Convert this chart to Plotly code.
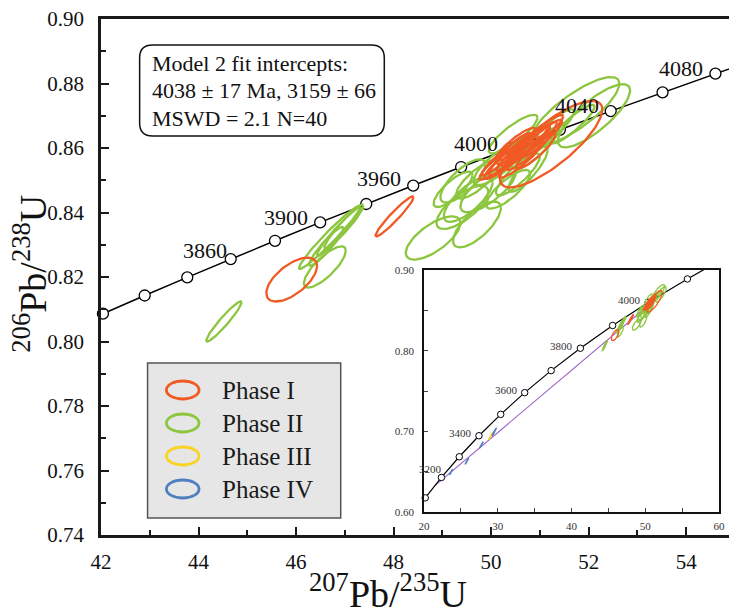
import numpy as np
import plotly.graph_objects as go

FONT = "Liberation Serif"

# ---------------------------------------------------------------------------
# Concordia reference points: age (Ma), 207Pb/235U, 206Pb/238U
# ---------------------------------------------------------------------------
conc_age = [3800, 3820, 3840, 3860, 3880, 3900, 3920, 3940, 3960, 3980,
            4000, 4020, 4040, 4060, 4080, 4100]
conc_x = [41.2004, 42.0399, 42.8960, 43.7692, 44.6597, 45.5680, 46.4943,
          47.4391, 48.4026, 49.3854, 50.3876, 51.4098, 52.4524, 53.5157,
          54.6001, 55.7061]
conc_y = [0.80304, 0.80864, 0.81427, 0.81990, 0.82556, 0.83123, 0.83692,
          0.84263, 0.84835, 0.85410, 0.85986, 0.86564, 0.87144, 0.87725,
          0.88308, 0.88894]

# age labels written along the main concordia and the tick they sit beside
conc_label_text = ["3860", "3900", "3960", "4000", "4040", "4080"]
conc_label_age = [3880, 3920, 3960, 4000, 4040, 4080]

# wide-range concordia shown in the inset (100 Ma ticks)
inset_age = [3100, 3200, 3300, 3400, 3500, 3600, 3700, 3800, 3900, 4000,
             4100, 4140]
inset_x = [20.1795, 22.3716, 24.7905, 27.4597, 30.4052, 33.6556, 37.2423,
           41.2003, 45.5679, 50.3876, 55.7060, 57.9845]
inset_y = [0.61751, 0.64280, 0.66848, 0.69456, 0.72105, 0.74796, 0.77528,
           0.80303, 0.83122, 0.85985, 0.88892, 0.90068]
inset_label_text = ["3200", "3400", "3600", "3800", "4000"]

# discordia through the two intercepts (3159 Ma and 4038 Ma)
disc_x = [21.45, 52.33]
disc_y = [0.6324, 0.8709]

# ---------------------------------------------------------------------------
# Analyses: 207Pb/235U, err, 206Pb/238U, err, error correlation
# ---------------------------------------------------------------------------
p1_x = [45.91, 48.02, 51.23, 50.41, 50.55, 50.71, 50.85, 50.61, 50.21,
        51.01, 50.51, 50.92, 50.30, 50.66, 50.78, 50.98, 50.47]
p1_sx = [0.52, 0.39, 1.05, 0.55, 0.60, 0.50, 0.50, 0.45, 0.45, 0.45, 0.40,
         0.40, 0.50, 0.55, 0.45, 0.50, 0.35]
p1_y = [0.8192, 0.8388, 0.8612, 0.8572, 0.8591, 0.8606, 0.8619, 0.8566,
        0.8557, 0.8628, 0.8612, 0.8591, 0.8580, 0.8600, 0.8590, 0.8640,
        0.8598]
p1_sy = [0.0068, 0.0062, 0.0134, 0.0068, 0.0075, 0.0062, 0.0062, 0.0058,
         0.0055, 0.0060, 0.0050, 0.0055, 0.0065, 0.0070, 0.0058, 0.0062,
         0.0048]
p1_rho = [0.62, 0.955, 0.80, 0.93, 0.94, 0.92, 0.93, 0.91, 0.91, 0.93,
          0.88, 0.90, 0.95, 0.96, 0.94, 0.93, 0.90]

p2_x = [44.52, 46.59, 46.69, 46.88, 46.98, 46.62, 48.81, 49.71, 49.41,
        49.42, 49.94, 50.14, 49.73, 49.22, 49.53, 50.35, 50.55, 50.76,
        50.95, 51.72, 52.11, 51.67, 50.45, 51.20]
p2_sx = [0.36, 0.43, 0.63, 0.45, 0.40, 0.35, 0.56, 0.49, 0.53, 0.46, 0.57,
         0.50, 0.45, 0.40, 0.50, 0.45, 0.45, 0.40, 0.45, 0.91, 0.74, 0.45,
         0.50, 0.50]
p2_y = [0.8062, 0.8231, 0.8323, 0.8341, 0.8356, 0.8295, 0.8321, 0.8363,
        0.8416, 0.8498, 0.8472, 0.8550, 0.8503, 0.8472, 0.8441, 0.8472,
        0.8518, 0.8534, 0.8600, 0.8713, 0.8700, 0.8674, 0.8643, 0.8650]
p2_sy = [0.0062, 0.0064, 0.0098, 0.0075, 0.0068, 0.0060, 0.0067, 0.0071,
         0.0067, 0.0067, 0.0071, 0.0065, 0.0060, 0.0055, 0.0070, 0.0060,
         0.0065, 0.0070, 0.0065, 0.0107, 0.0098, 0.0060, 0.0060, 0.0070]
p2_rho = [0.95, 0.79, 0.97, 0.96, 0.95, 0.93, 0.69, 0.72, 0.72, 0.75, 0.75,
          0.80, 0.80, 0.80, 0.75, 0.80, 0.85, 0.85, 0.90, 0.81, 0.80, 0.90,
          0.85, 0.90]

p3_x = [29.06]
p3_sx = [0.30]
p3_y = [0.6942]
p3_sy = [0.0045]
p3_rho = [0.97]

p4_x = [23.69, 25.84, 27.79, 29.53]
p4_sx = [0.22, 0.25, 0.25, 0.30]
p4_y = [0.6496, 0.6632, 0.6831, 0.6992]
p4_sy = [0.0035, 0.0040, 0.0040, 0.0050]
p4_rho = [0.97, 0.97, 0.97, 0.97]

phases = [
    ("Phase I", "#f15a24", p1_x, p1_sx, p1_y, p1_sy, p1_rho),
    ("Phase II", "#8cc63f", p2_x, p2_sx, p2_y, p2_sy, p2_rho),
    ("Phase III", "#f9d423", p3_x, p3_sx, p3_y, p3_sy, p3_rho),
    ("Phase IV", "#4f7fbf", p4_x, p4_sx, p4_y, p4_sy, p4_rho),
]
draw_order = [1, 0, 2, 3]


def ellipse_outlines(xs, sxs, ys, sys_, rhos, n=90):
    """Error-ellipse outlines joined into one polyline with gaps."""
    t = np.linspace(0, 2 * np.pi, n)
    px, py = [], []
    for cx, sx, cy, sy, r in zip(xs, sxs, ys, sys_, rhos):
        ex = cx + sx * np.cos(t)
        ey = cy + sy * (r * np.cos(t) + np.sqrt(1 - r * r) * np.sin(t))
        px += list(ex) + [None]
        py += list(ey) + [None]
    return px, py


fig = go.Figure()

# ---------------------------------------------------------------- main panel
fig.add_trace(go.Scatter(x=conc_x, y=conc_y, mode="lines",
                         line=dict(color="black", width=1.5),
                         hoverinfo="skip", showlegend=False))
main_idx = [i for i, a in enumerate(conc_age) if 3820 <= a <= 4080]
fig.add_trace(go.Scatter(x=[conc_x[i] for i in main_idx],
                         y=[conc_y[i] for i in main_idx],
                         mode="markers", cliponaxis=False,
                         marker=dict(symbol="circle", size=11, color="white",
                                     line=dict(color="black", width=1.3)),
                         hoverinfo="skip", showlegend=False))

for k in draw_order:
    name, col, xs, sxs, ys, sys_, rhos = phases[k]
    ex, ey = ellipse_outlines(xs, sxs, ys, sys_, rhos)
    fig.add_trace(go.Scatter(x=ex, y=ey, mode="lines", name=name,
                             line=dict(color=col, width=2.3),
                             hoverinfo="skip", showlegend=False))

# --------------------------------------------------------------- inset panel
fig.add_trace(go.Scatter(x=disc_x, y=disc_y, mode="lines", xaxis="x2",
                         yaxis="y2", line=dict(color="#9b5fc9", width=1.1),
                         hoverinfo="skip", showlegend=False))
fig.add_trace(go.Scatter(x=inset_x, y=inset_y, mode="lines", xaxis="x2",
                         yaxis="y2", line=dict(color="black", width=1.2),
                         hoverinfo="skip", showlegend=False))
inset_idx = [i for i, a in enumerate(inset_age) if a % 100 == 0]
fig.add_trace(go.Scatter(x=[inset_x[i] for i in inset_idx],
                         y=[inset_y[i] for i in inset_idx],
                         mode="markers", xaxis="x2", yaxis="y2",
                         cliponaxis=False,
                         marker=dict(symbol="circle", size=6.5, color="white",
                                     line=dict(color="black", width=1)),
                         hoverinfo="skip", showlegend=False))
for k in draw_order:
    name, col, xs, sxs, ys, sys_, rhos = phases[k]
    ex, ey = ellipse_outlines(xs, sxs, ys, sys_, rhos)
    fig.add_trace(go.Scatter(x=ex, y=ey, mode="lines", xaxis="x2", yaxis="y2",
                             line=dict(color=col, width=1.3),
                             hoverinfo="skip", showlegend=False))

# ---------------------------------------------------------------- geometry
L, R, T, B = 101, 735, 19, 535          # plot area in pixels
W, H = R - L, B - T


def fx(px):
    return (px - L) / W


def fy(py):
    return (B - py) / H


annotations = []

# concordia age labels (main)
main_shift = {"3860": (-2, 9), "3900": (-10, 4.5), "3960": (-10, 7),
              "4000": (-10, 5), "4040": (-10, 5.5), "4080": (-10, 5.5)}
for txt, age in zip(conc_label_text, conc_label_age):
    i = conc_age.index(age)
    dx, dy = main_shift[txt]
    annotations.append(dict(x=conc_x[i], y=conc_y[i], xref="x", yref="y",
                            text=txt, showarrow=False, xanchor="right",
                            yanchor="middle", xshift=dx, yshift=dy,
                            font=dict(family=FONT, size=22, color="#111")))

# concordia age labels (inset)
inset_shift = {"3200": (3, 8), "3400": (-5, 2.5), "3600": (-5, 2.5),
               "3800": (-5, 2.5), "4000": (-5, 2.5)}
for txt in inset_label_text:
    i = inset_age.index(int(txt))
    dx, dy = inset_shift[txt]
    annotations.append(dict(x=inset_x[i], y=inset_y[i], xref="x2", yref="y2",
                            text=txt, showarrow=False, xanchor="right",
                            yanchor="middle", xshift=dx, yshift=dy,
                            font=dict(family=FONT, size=11, color="#333")))

# fit result box
box_lines = ["Model 2 fit intercepts:", "4038 \u00b1 17 Ma, 3159 \u00b1 66",
             "MSWD = 2.1 N=40"]
for j, line in enumerate(box_lines):
    annotations.append(dict(x=fx(150), y=fy(63 + j * 27.5), xref="paper",
                            yref="paper", text=line, showarrow=False,
                            xanchor="left", yanchor="middle",
                            font=dict(family=FONT, size=22, color="#111")))

# legend entries
leg_rows = [390, 423, 456, 489]
for j, (name, col, *_rest) in enumerate(phases):
    annotations.append(dict(x=fx(221), y=fy(leg_rows[j]), xref="paper",
                            yref="paper", text=name, showarrow=False,
                            xanchor="left", yanchor="middle",
                            font=dict(family=FONT, size=25, color="#1a1a1a")))

# axis titles
annotations.append(dict(x=fx(391), y=fy(591), xref="paper", yref="paper",
                        text="<sup>207</sup>Pb/<sup>235</sup>U",
                        showarrow=False, xanchor="center", yanchor="middle",
                        borderpad=0,
                        font=dict(family=FONT, size=38, color="#111")))
annotations.append(dict(x=fx(29), y=fy(274), xref="paper", yref="paper",
                        text="<sup>206</sup>Pb/<sup>238</sup>U",
                        showarrow=False, xanchor="center", yanchor="middle",
                        textangle=-90, borderpad=0,
                        font=dict(family=FONT, size=38, color="#111")))

shapes = []
# rounded box behind the fit result
x0, x1, y0, y1 = fx(140), fx(387), fy(136), fy(45)
rx, ry = 13 / W, 13 / H
shapes.append(dict(
    type="path", xref="paper", yref="paper",
    path=(f"M {x0 + rx},{y0} L {x1 - rx},{y0} Q {x1},{y0} {x1},{y0 + ry} "
          f"L {x1},{y1 - ry} Q {x1},{y1} {x1 - rx},{y1} "
          f"L {x0 + rx},{y1} Q {x0},{y1} {x0},{y1 - ry} "
          f"L {x0},{y0 + ry} Q {x0},{y0} {x0 + rx},{y0} Z"),
    line=dict(color="#111", width=1.5), fillcolor="white", layer="above"))
# legend frame
shapes.append(dict(type="rect", xref="paper", yref="paper",
                   x0=fx(148), x1=fx(343), y0=fy(518), y1=fy(363),
                   fillcolor="#e6e6e6", line=dict(color="#555", width=1.5),
                   layer="above"))
for j, (name, col, *_rest) in enumerate(phases):
    cy = leg_rows[j]
    shapes.append(dict(type="circle", xref="paper", yref="paper",
                       x0=fx(167), x1=fx(200), y0=fy(cy + 9), y1=fy(cy - 9),
                       line=dict(color=col, width=2.8), layer="above"))

axis_font = dict(family=FONT, size=21, color="#111")
fig.update_layout(
    width=735, height=609,
    font=dict(family=FONT, color="#111"),
    margin=dict(l=L, r=735 - R, t=T, b=609 - B),
    paper_bgcolor="white", plot_bgcolor="white",
    showlegend=False,
    xaxis=dict(domain=[0, 1], range=[42, 42 + W / 49.23], dtick=2, tick0=42,
               ticks="inside", ticklen=8, tickwidth=2, tickcolor="#1a1a1a",
               minor=dict(dtick=1, tick0=42, ticks="inside", ticklen=5,
                          tickwidth=2, tickcolor="#1a1a1a"),
               showline=True, linewidth=2.5, linecolor="#1a1a1a", mirror=True,
               showgrid=False, zeroline=False, tickfont=axis_font,
               ticklabelstandoff=6),
    yaxis=dict(domain=[0, 1], range=[0.74, 0.90], dtick=0.02, tick0=0.74,
               tickformat=".2f", ticks="inside", ticklen=8, tickwidth=2,
               tickcolor="#1a1a1a",
               minor=dict(dtick=0.01, tick0=0.74, ticks="inside", ticklen=5,
                          tickwidth=2, tickcolor="#1a1a1a"),
               showline=True, linewidth=2.5, linecolor="#1a1a1a",
               showgrid=False, zeroline=False, tickfont=axis_font,
               ticklabelstandoff=10),
    xaxis2=dict(domain=[fx(427), fx(725)], anchor="y2", range=[20, 60],
                dtick=10, tick0=20, ticks="inside", ticklen=4, tickwidth=1.2,
                minor=dict(dtick=5, tick0=20, ticks="inside", ticklen=4,
                           tickwidth=1.2),
                showline=True, linewidth=1.6, linecolor="#111", mirror=True,
                showgrid=False, zeroline=False,
                tickfont=dict(family=FONT, size=11, color="#333"),
                ticklabelstandoff=3),
    yaxis2=dict(domain=[fy(512), fy(270)], anchor="x2", range=[0.60, 0.90],
                dtick=0.1, tick0=0.6, tickformat=".2f", ticks="inside",
                ticklen=4, tickwidth=1.2,
                minor=dict(dtick=0.05, tick0=0.6, ticks="inside", ticklen=4,
                           tickwidth=1.2),
                showline=True, linewidth=1.6, linecolor="#111", mirror=True,
                showgrid=False, zeroline=False,
                tickfont=dict(family=FONT, size=11, color="#333"),
                ticklabelstandoff=6),
    annotations=annotations,
    shapes=shapes,
)

fig.write_html("out.html")
